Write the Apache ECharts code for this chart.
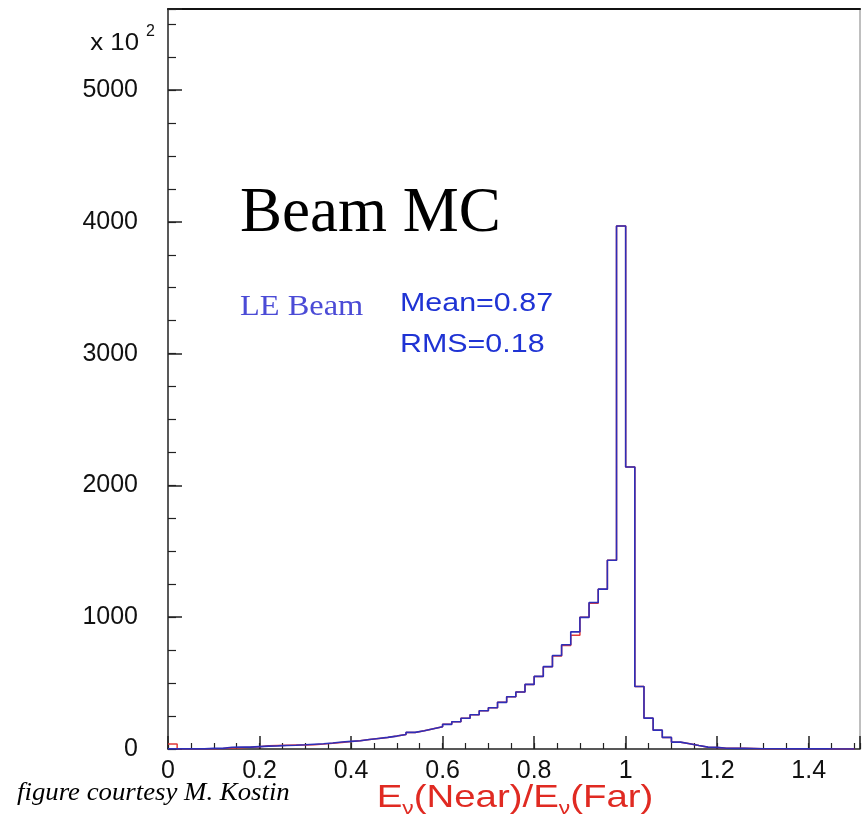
<!DOCTYPE html>
<html><head><meta charset="utf-8">
<script src="https://cdn.jsdelivr.net/npm/echarts@6/dist/echarts.min.js"></script>
<style>html,body{margin:0;padding:0;background:#fff}#c{width:863px;height:818px}</style>
</head><body><div id="c"></div>
<script>
// ---- data ----
const binStart = 0;
const binWidth = 0.02;
const xTickValues = [0, 0.2, 0.4, 0.6, 0.8, 1.0, 1.2, 1.4];
const xTickLabels = ['0', '0.2', '0.4', '0.6', '0.8', '1', '1.2', '1.4'];
const yTickValues = [0, 1000, 2000, 3000, 4000, 5000];
const yTickLabels = ['0', '1000', '2000', '3000', '4000', '5000'];
// LE Beam histogram (units of 10^2), bins of 0.02 from 0 to 1.5
const blueCounts = [
  1, 1, 1, 1, 5, 5, 13, 14, 14, 18,
  22, 24, 27, 29, 32, 36, 40, 46, 53, 58,
  63, 72, 80, 88, 98, 110, 126, 139, 154, 169,
  187, 207, 233, 260, 290, 313, 354, 396, 433, 490,
  551, 625, 710, 791, 889, 999, 1112, 1213, 1432, 3968,
  2140, 474, 234, 143, 88, 52, 40, 26, 14, 12,
  6, 5, 5, 4, 2, 2, 2, 1, 1, 1,
  1, 1, 0, 0, 0
];
const redCounts = [
  38, 1, 1, 1, 2, 3, 8, 10, 13, 17,
  24, 27, 29, 31, 30, 33, 37, 43, 50, 56,
  63, 72, 80, 88, 98, 110, 126, 139, 154, 169,
  187, 207, 233, 260, 290, 313, 354, 396, 433, 490,
  551, 625, 705, 785, 864, 999, 1105, 1213, 1432, 3968,
  2140, 474, 234, 143, 88, 52, 40, 26, 14, 12,
  6, 5, 5, 4, 2, 2, 2, 1, 1, 1,
  1, 1, 0, 0, 0
];

function stepData(counts) {
  const d = counts.map((v, i) => [+(binStart + i * binWidth).toFixed(4), v]);
  d.push([+(binStart + counts.length * binWidth).toFixed(4), counts[counts.length - 1]]);
  return d;
}
function labelFor(values, labels) {
  return function (v) {
    for (let i = 0; i < values.length; i++) if (Math.abs(v - values[i]) < 1e-6) return labels[i];
    return '';
  };
}

const X_MAX = 1.512, Y_MAX = 5615;
const sans = '"Liberation Sans", Arial, Helvetica, sans-serif';
const serif = '"Liberation Serif", "Times New Roman", serif';

const chart = echarts.init(document.getElementById('c'), null, {renderer: 'canvas'});
chart.setOption({
  animation: false,
  backgroundColor: '#ffffff',
  grid: {left: 168, top: 9, width: 694, height: 740, containLabel: false},
  xAxis: [
    {type: 'value', min: 0, max: X_MAX, interval: 0.2, position: 'bottom',
     axisLine: {show: true, onZero: false, lineStyle: {color: '#222', width: 1.5}},
     axisTick: {show: true, inside: true, length: 13, lineStyle: {color: '#222', width: 1.5}},
     axisLabel: {show: true, margin: 10, color: '#111', fontSize: 25, fontFamily: sans,
                 formatter: labelFor(xTickValues, xTickLabels), hideOverlap: false},
     splitLine: {show: false}},
    {type: 'value', min: 0, max: X_MAX, interval: 0.05, position: 'bottom',
     axisLine: {show: false}, axisLabel: {show: false}, splitLine: {show: false},
     axisTick: {show: true, inside: true, length: 6, lineStyle: {color: '#222', width: 1.2}}},
    {type: 'value', min: 0, max: X_MAX, position: 'top',
     axisLine: {show: true, onZero: false, lineStyle: {color: '#111', width: 2}},
     axisTick: {show: false}, axisLabel: {show: false}, splitLine: {show: false}}
  ],
  yAxis: [
    {type: 'value', min: 0, max: Y_MAX, interval: 1000, position: 'left',
     axisLine: {show: true, onZero: false, lineStyle: {color: '#222', width: 1.5}},
     axisTick: {show: true, inside: true, length: 14, lineStyle: {color: '#222', width: 1.5}},
     axisLabel: {show: true, margin: 30, color: '#111', fontSize: 25, fontFamily: sans,
                 formatter: labelFor(yTickValues, yTickLabels)},
     splitLine: {show: false}},
    {type: 'value', min: 0, max: Y_MAX, interval: 250, position: 'left',
     axisLine: {show: false}, axisLabel: {show: false}, splitLine: {show: false},
     axisTick: {show: true, inside: true, length: 8, lineStyle: {color: '#222', width: 1.2}}},
    {type: 'value', min: 0, max: Y_MAX, position: 'right',
     axisLine: {show: true, onZero: false, lineStyle: {color: '#aaa', width: 1.5}},
     axisTick: {show: false}, axisLabel: {show: false}, splitLine: {show: false}}
  ],
  series: [
    {name: 'red', type: 'line', step: 'end', xAxisIndex: 0, yAxisIndex: 0,
     showSymbol: false, symbol: 'none', z: 2,
     lineStyle: {color: '#e03a3a', width: 1.5}, data: stepData(redCounts)},
    {name: 'LE Beam', type: 'line', step: 'end', xAxisIndex: 0, yAxisIndex: 0,
     showSymbol: false, symbol: 'none', z: 3,
     lineStyle: {color: '#2e2eb8', width: 1.6}, data: stepData(blueCounts)}
  ],
  graphic: [
    {type: 'text', x: 139, y: 44, scaleX: 1.12, originX: 0, style: {text: 'x 10', fill: '#111', font: '23px ' + sans, align: 'right', verticalAlign: 'middle'}},
    {type: 'text', x: 146, y: 32, style: {text: '2', fill: '#111', font: '16px ' + sans, align: 'left', verticalAlign: 'middle'}},
    {type: 'text', x: 240, y: 214, style: {text: 'Beam MC', fill: '#000', font: '63px ' + serif, align: 'left', verticalAlign: 'middle'}},
    {type: 'text', x: 240, y: 307, scaleX: 1.08, originX: 0, style: {text: 'LE Beam', fill: '#4b4bd6', font: '30px ' + serif, align: 'left', verticalAlign: 'middle'}},
    {type: 'text', x: 400, y: 304, scaleX: 1.17, originX: 0, style: {text: 'Mean=0.87', fill: '#1f33d4', font: '26px ' + sans, align: 'left', verticalAlign: 'middle'}},
    {type: 'text', x: 400, y: 345, scaleX: 1.17, originX: 0, style: {text: 'RMS=0.18', fill: '#1f33d4', font: '26px ' + sans, align: 'left', verticalAlign: 'middle'}},
    {type: 'text', x: 515, y: 798, scaleX: 1.2, originX: 0, style: {
      text: '{a|E}{s|ν}{a|(Near)/E}{s|ν}{a|(Far)}', align: 'center', verticalAlign: 'middle',
      rich: {a: {fill: '#e02a22', font: '32px ' + sans},
             s: {fill: '#e02a22', font: '19px ' + sans, padding: [22, 0, 0, 0]}}}},
    {type: 'text', x: 17, y: 793, scaleX: 1.03, originX: 0, style: {text: 'figure courtesy M. Kostin', fill: '#000', font: 'italic 26px ' + serif, align: 'left', verticalAlign: 'middle'}}
  ]
});
</script>
</body></html>
